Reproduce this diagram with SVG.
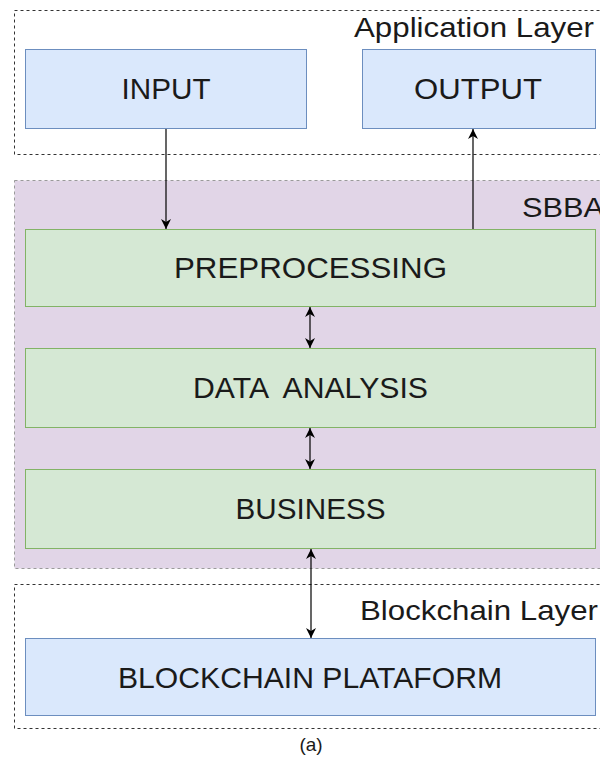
<svg xmlns="http://www.w3.org/2000/svg" width="600" height="762" viewBox="0 0 600 762">
  <style>
    .layer { fill: #ffffff; stroke: #333333; stroke-width: 1; stroke-dasharray: 3 3; }
    .sbba { fill: #e1d5e7; stroke: #9a9a9a; stroke-width: 1; stroke-dasharray: 3 3; }
    .blue { fill: #dae8fc; stroke: #6c8ebf; stroke-width: 1; }
    .green { fill: #d5e8d4; stroke: #82b366; stroke-width: 1; }
    text { font-family: "Liberation Sans", Arial, Helvetica, sans-serif; fill: #1a1a1a; }
    .lbl { font-size: 29px; text-anchor: middle; }
    .title { font-size: 28px; }
    .edge { stroke: #000000; stroke-width: 1.2; fill: none; }
  </style>
  <defs>
    <marker id="head" viewBox="0 0 10 10" refX="10" refY="5" markerWidth="10" markerHeight="10" markerUnits="userSpaceOnUse" orient="auto-start-reverse">
      <path d="M0,0 L10,5 L0,10 L3,5 Z" fill="#000000"/>
    </marker>
  </defs>

  <rect width="600" height="762" fill="#ffffff"/>

  <!-- Application layer -->
  <g id="application-layer">
    <rect class="layer" x="14.5" y="10.5" width="600" height="144"/>
    <text class="title" x="354" y="37" textLength="240" lengthAdjust="spacingAndGlyphs">Application Layer</text>
  </g>
  <g id="input">
    <rect class="blue" x="25.5" y="49.5" width="281" height="79"/>
    <text class="lbl" x="166" y="99" textLength="89" lengthAdjust="spacingAndGlyphs">INPUT</text>
  </g>
  <g id="output">
    <rect class="blue" x="362.5" y="49.5" width="233" height="79"/>
    <text class="lbl" x="478" y="99" textLength="128" lengthAdjust="spacingAndGlyphs">OUTPUT</text>
  </g>

  <!-- SBBA -->
  <g id="sbba">
    <rect class="sbba" x="14.5" y="180.5" width="600" height="388"/>
    <text class="title" x="522" y="217" textLength="82" lengthAdjust="spacingAndGlyphs">SBBA</text>
  </g>
  <g id="preprocessing">
    <rect class="green" x="25.5" y="229.5" width="570" height="77"/>
    <text class="lbl" x="310.5" y="278" textLength="273" lengthAdjust="spacingAndGlyphs">PREPROCESSING</text>
  </g>
  <g id="data-analysis">
    <rect class="green" x="25.5" y="348.5" width="570" height="79"/>
    <text class="lbl" x="310.5" y="398" textLength="235" lengthAdjust="spacingAndGlyphs" xml:space="preserve">DATA  ANALYSIS</text>
  </g>
  <g id="business">
    <rect class="green" x="25.5" y="469.5" width="570" height="79"/>
    <text class="lbl" x="310.5" y="519" textLength="150" lengthAdjust="spacingAndGlyphs">BUSINESS</text>
  </g>

  <!-- Blockchain layer -->
  <g id="blockchain-layer">
    <rect class="layer" x="14.5" y="584.5" width="600" height="144"/>
    <text class="title" x="360" y="620" textLength="238" lengthAdjust="spacingAndGlyphs">Blockchain Layer</text>
  </g>
  <g id="blockchain-platform">
    <rect class="blue" x="25.5" y="638.5" width="570" height="77"/>
    <text class="lbl" x="310" y="688" textLength="384" lengthAdjust="spacingAndGlyphs">BLOCKCHAIN PLATAFORM</text>
  </g>

  <g id="connectors">
    <line class="edge" x1="166" y1="129" x2="166" y2="229" marker-end="url(#head)"/>
    <line class="edge" x1="473" y1="229" x2="473" y2="129" marker-end="url(#head)"/>
    <line class="edge" x1="310" y1="307" x2="310" y2="348" marker-start="url(#head)" marker-end="url(#head)"/>
    <line class="edge" x1="310" y1="428" x2="310" y2="469" marker-start="url(#head)" marker-end="url(#head)"/>
    <line class="edge" x1="311" y1="549" x2="311" y2="638" marker-start="url(#head)" marker-end="url(#head)"/>
  </g>

  <text x="311" y="751" font-size="19" text-anchor="middle">(a)</text>
</svg>
